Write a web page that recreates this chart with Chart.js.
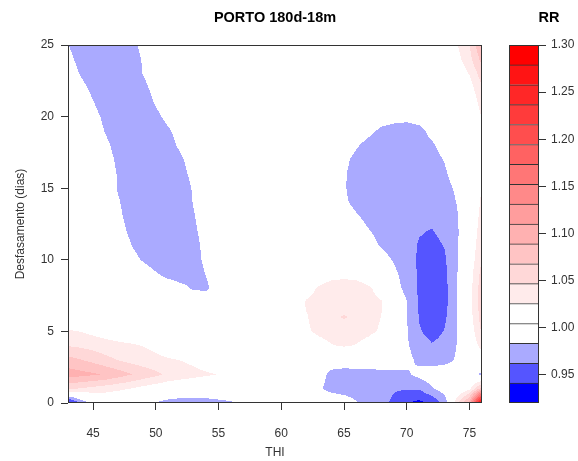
<!DOCTYPE html>
<html>
<head>
<meta charset="utf-8">
<title>PORTO 180d-18m</title>
<script src="https://cdn.jsdelivr.net/npm/chart.js@4.4.1/dist/chart.umd.min.js"></script>
<style>
  body { margin: 0; background: #fff; }
  #wrap { position: relative; width: 578px; height: 461px; }
  #wrap canvas { position: absolute; left: 0; top: 0; }
</style>
</head>
<body>
<div id="wrap">
  <canvas id="rrMap" width="578" height="461"></canvas>
  <canvas id="rrKey" width="578" height="461"></canvas>
</div>
<script>
// grid axes: THI (columns) and lag in days (rows)
const thi = [43, 44, 45, 46, 47, 48, 49, 50, 51, 52, 53, 54, 55, 56, 57, 58, 59,
             60, 61, 62, 63, 64, 65, 66, 67, 68, 69, 70, 71, 72, 73, 74, 75, 76];
const lags = [0, 1, 2, 3, 4, 5, 6, 7, 8, 9, 10, 11, 12, 13, 14, 15, 16, 17, 18, 19,
              20, 21, 22, 23, 24, 25];

// relative risk, one row per lag (lag 0 first), one value per THI column
const rr = [
  /* 0 */ [0.925,0.965,0.990,1,1,1,0.992,0.982,0.975,0.972,0.972,0.975,0.978,0.981,0.988,0.995,1,1,1,1,1,1,0.995,0.985,0.975,0.968,0.958,0.942,0.935,0.945,0.968,1.040,1.100,1.300],
  /* 1 */ [1.050,1.045,1.040,1.035,1.030,1.025,1.018,1.012,1.008,1.005,1.003,1,1,1,1,1,1,1,1,1,0.986,0.977,0.974,0.972,0.970,0.968,0.964,0.964,0.964,0.980,0.995,1,1.020,1.080],
  /* 2 */ [1.100,1.096,1.092,1.087,1.078,1.069,1.060,1.052,1.042,1.037,1.033,1.029,1.025,1.015,1.005,1,1,1,1,1,0.990,0.979,0.977,0.977,0.977,0.978,0.979,0.980,0.990,0.998,1,1,0.995,0.978],
  /* 3 */ [1.075,1.069,1.062,1.053,1.046,1.040,1.035,1.031,1.028,1.025,1.020,1.012,1.005,1,1,1,1,1,1,1,0.998,0.992,0.992,0.993,0.994,0.995,0.993,0.990,0.978,0.972,0.975,0.986,1,1.010],
  /* 4 */ [1.046,1.043,1.039,1.035,1.031,1.029,1.025,1.020,1.013,1.007,1.002,1,1,1,1,1,1,1,1,1.005,1.015,1.024,1.028,1.024,1.015,1,0.995,0.986,0.972,0.964,0.968,0.984,1.005,1.035],
  /* 5 */ [1.028,1.025,1.020,1.015,1.012,1.008,1.005,1.002,1,1,1,1,1,1,1,1,1,1,1.008,1.022,1.031,1.036,1.038,1.036,1.031,1.022,0.995,0.985,0.964,0.955,0.963,0.982,1.010,1.050],
  /* 6 */ [1.010,1.008,1.006,1.004,1.002,1,1,1,1,1,1,1,1,1,1,1,1,1,1.010,1.024,1.035,1.043,1.048,1.043,1.035,1.025,0.994,0.984,0.961,0.952,0.958,0.982,1.015,1.058],
  /* 7 */ [1,1,1,1,1,1,1,1,1,1,1,1,1,1,1,1,1,1,1.008,1.028,1.031,1.038,1.040,1.038,1.031,1.027,0.993,0.984,0.960,0.950,0.955,0.982,1.016,1.060],
  /* 8 */ [1,1,1,1,1,1,1,1,0.998,0.990,0.981,0.980,0.992,1,1,1,1,1,1,1.018,1.028,1.033,1.034,1.033,1.028,1.018,0.988,0.980,0.958,0.949,0.955,0.982,1.016,1.060],
  /* 9 */ [1,1,1,1,1,1,0.996,0.986,0.976,0.972,0.974,0.984,0.994,1,1,1,1,1,1,1,1.015,1.020,1.021,1.020,1.015,0.995,0.986,0.978,0.958,0.950,0.957,0.982,1.014,1.055],
  /* 10 */ [1,1,1,1,1,0.991,0.981,0.971,0.970,0.970,0.977,0.987,0.997,1,1,1,1,1,1,1,1,1.002,1.003,1,0.995,0.988,0.982,0.975,0.958,0.952,0.959,0.981,1.010,1.048],
  /* 11 */ [1,1,1,1,0.994,0.984,0.974,0.970,0.970,0.970,0.978,0.988,0.998,1,1,1,1,1,1,1,1,1,1,0.995,0.988,0.982,0.978,0.972,0.960,0.956,0.963,0.980,1.008,1.042],
  /* 12 */ [1,1,1,1,0.990,0.980,0.970,0.970,0.970,0.970,0.980,0.990,1,1,1,1,1,1,1,1,1,1,0.997,0.990,0.984,0.979,0.976,0.972,0.964,0.961,0.968,0.980,1.005,1.038],
  /* 13 */ [1,1,1,0.997,0.987,0.977,0.970,0.970,0.970,0.972,0.982,0.992,1,1,1,1,1,1,1,1,1,0.997,0.992,0.985,0.979,0.975,0.973,0.971,0.969,0.968,0.971,0.981,1.004,1.034],
  /* 14 */ [1,1,1,0.995,0.985,0.975,0.970,0.970,0.970,0.974,0.984,0.994,1,1,1,1,1,1,1,1,0.998,0.992,0.986,0.979,0.975,0.973,0.972,0.972,0.972,0.972,0.974,0.984,1.002,1.030],
  /* 15 */ [1,1,1,0.993,0.982,0.973,0.970,0.970,0.970,0.975,0.985,0.995,1,1,1,1,1,1,1,1,0.997,0.990,0.985,0.976,0.973,0.972,0.972,0.972,0.973,0.974,0.978,0.986,1,1.027],
  /* 16 */ [1,1,1,0.992,0.982,0.972,0.970,0.970,0.970,0.978,0.988,0.998,1,1,1,1,1,1,1,1,0.997,0.990,0.985,0.977,0.974,0.973,0.973,0.973,0.974,0.975,0.981,0.990,1,1.018],
  /* 17 */ [1,1,1,0.990,0.980,0.970,0.970,0.970,0.971,0.981,0.991,1,1,1,1,1,1,1,1,1,0.998,0.992,0.987,0.979,0.975,0.974,0.974,0.974,0.975,0.977,0.984,0.992,1,1.005],
  /* 18 */ [1,1,0.997,0.987,0.977,0.970,0.970,0.970,0.977,0.987,0.997,1,1,1,1,1,1,1,1,1,1,0.996,0.992,0.985,0.978,0.976,0.975,0.975,0.976,0.981,0.990,0.996,1,1.005],
  /* 19 */ [1,1,0.993,0.982,0.973,0.970,0.970,0.971,0.981,0.991,1,1,1,1,1,1,1,1,1,1,1,1,0.997,0.993,0.987,0.980,0.977,0.976,0.979,0.988,0.995,1,1,1.015],
  /* 20 */ [1,0.999,0.989,0.979,0.970,0.970,0.970,0.979,0.989,0.999,1,1,1,1,1,1,1,1,1,1,1,1,1,0.998,0.995,0.991,0.989,0.988,0.990,0.995,1,1,1.003,1.027],
  /* 21 */ [1,0.994,0.984,0.974,0.970,0.970,0.975,0.985,0.995,1,1,1,1,1,1,1,1,1,1,1,1,1,1,1,1,1,1,1,1,1,1,1,1.008,1.035],
  /* 22 */ [0.999,0.989,0.979,0.970,0.970,0.970,0.979,0.989,0.999,1,1,1,1,1,1,1,1,1,1,1,1,1,1,1,1,1,1,1,1,1,1,1.004,1.015,1.045],
  /* 23 */ [0.993,0.982,0.973,0.970,0.970,0.973,0.984,0.993,1,1,1,1,1,1,1,1,1,1,1,1,1,1,1,1,1,1,1,1,1,1,1,1.008,1.027,1.058],
  /* 24 */ [0.988,0.978,0.970,0.970,0.970,0.975,0.985,0.995,1,1,1,1,1,1,1,1,1,1,1,1,1,1,1,1,1,1,1,1,1,1,1,1.018,1.040,1.075],
  /* 25 */ [0.984,0.974,0.970,0.970,0.970,0.978,0.988,0.998,1,1,1,1,1,1,1,1,1,1,1,1,1,1,1,1,1,1,1,1,1,1,1,1.024,1.046,1.090]
];

// contour levels and the fill of each band between them
const levels = [0.920, 0.9411, 0.9622, 0.9833, 1.0044, 1.0256, 1.0467, 1.0678, 1.0889, 1.1100,
                1.1311, 1.1522, 1.1733, 1.1944, 1.2156, 1.2367, 1.2578, 1.2789, 1.300];
const binColors = ['#0000FF', '#5555FF', '#AAAAFF', '#FFFFFF',
                   '#FFFFFF', '#FFEBEB', '#FFD8D8', '#FFC4C4', '#FFB1B1', '#FF9D9D', '#FF8989',
                   '#FF7676', '#FF6262', '#FF4E4E', '#FF3B3B', '#FF2727', '#FF1414', '#FF0000'];

const thiTicks = [45, 50, 55, 60, 65, 70, 75];
const lagTicks = [0, 5, 10, 15, 20, 25];
const keyTicks = [0.95, 1.00, 1.05, 1.10, 1.15, 1.20, 1.25, 1.30];

const FONT = '"Liberation Sans", Arial, sans-serif';
Chart.defaults.font.family = FONT;
Chart.defaults.font.size = 12;
Chart.defaults.color = '#333';

function hexToRgb(h) {
  const n = parseInt(h.slice(1), 16);
  return [(n >> 16) & 255, (n >> 8) & 255, n & 255];
}

// filled contours: every pixel of the plot area is mapped back through the
// scales, the grid is interpolated bilinearly and the band colour is looked up
const contourFill = {
  id: 'contourFill',
  beforeDatasetsDraw(chart, args, opts) {
    const { ctx, chartArea: a, scales: { x, y } } = chart;
    const { xs, ys, z, lv, cols } = opts;
    const rgb = cols.map(hexToRgb);
    const w = Math.round(a.right - a.left), h = Math.round(a.bottom - a.top);
    const off = document.createElement('canvas');
    off.width = w; off.height = h;
    const octx = off.getContext('2d');
    const img = octx.createImageData(w, h);
    const dx = xs[1] - xs[0], dy = ys[1] - ys[0];
    for (let j = 0; j < h; j++) {
      const fy = (y.getValueForPixel(a.top + j + 0.5) - ys[0]) / dy;
      const r = Math.min(Math.max(Math.floor(fy), 0), ys.length - 2);
      const ty = fy - r;
      for (let i = 0; i < w; i++) {
        const fx = (x.getValueForPixel(a.left + i + 0.5) - xs[0]) / dx;
        const c = Math.min(Math.max(Math.floor(fx), 0), xs.length - 2);
        const tx = fx - c;
        const lo = z[r][c] * (1 - tx) + z[r][c + 1] * tx;
        const hi = z[r + 1][c] * (1 - tx) + z[r + 1][c + 1] * tx;
        const v = lo * (1 - ty) + hi * ty;
        let k = 0;
        while (k < cols.length - 1 && v >= lv[k + 1]) k++;
        const p = (j * w + i) * 4;
        img.data[p] = rgb[k][0];
        img.data[p + 1] = rgb[k][1];
        img.data[p + 2] = rgb[k][2];
        img.data[p + 3] = 255;
      }
    }
    octx.putImageData(img, 0, 0);
    ctx.drawImage(off, a.left, a.top);
  }
};

// box round the plotting region
const frame = {
  id: 'frame',
  afterDraw(chart) {
    const { ctx, chartArea: a } = chart;
    ctx.save();
    ctx.strokeStyle = '#333';
    ctx.lineWidth = 1;
    ctx.strokeRect(a.left + 0.5, a.top + 0.5, a.right - a.left - 1, a.bottom - a.top - 1);
    ctx.restore();
  }
};

// bold heading above the plotting region
const heading = {
  id: 'heading',
  afterDraw(chart, args, opts) {
    const { ctx, chartArea: a } = chart;
    ctx.save();
    ctx.font = 'bold ' + opts.size + 'px ' + FONT;
    ctx.fillStyle = '#000';
    ctx.textAlign = 'center';
    ctx.textBaseline = 'middle';
    ctx.fillText(opts.text, (a.left + a.right) / 2 + (opts.shift || 0), opts.y);
    ctx.restore();
  }
};

const tickGrid = { drawOnChartArea: false, drawTicks: true, tickLength: 7, color: '#333' };

const gridPoints = [];
lags.forEach((lag, r) => thi.forEach((t, c) => gridPoints.push({ x: t, y: lag, v: rr[r][c] })));

new Chart(document.getElementById('rrMap'), {
  type: 'scatter',
  data: { datasets: [{ data: gridPoints, pointRadius: 0, pointHoverRadius: 0 }] },
  options: {
    responsive: false,
    animation: false,
    events: [],
    layout: { padding: { top: 45, right: 96, left: 0, bottom: 0 } },
    plugins: {
      legend: { display: false },
      tooltip: { enabled: false },
      contourFill: { xs: thi, ys: lags, z: rr, lv: levels, cols: binColors },
      heading: { text: 'PORTO 180d-18m', size: 14.5, y: 18 }
    },
    scales: {
      x: {
        type: 'linear', min: thi[0], max: thi[thi.length - 1],
        afterBuildTicks: s => { s.ticks = thiTicks.map(v => ({ value: v })); },
        afterFit: s => { s.height = 58; },
        grid: tickGrid,
        border: { display: false },
        ticks: { padding: 16, autoSkip: false, maxRotation: 0 },
        title: { display: true, text: 'THI', padding: { top: 0, bottom: 1 } }
      },
      y: {
        type: 'linear', min: lags[0], max: lags[lags.length - 1],
        afterBuildTicks: s => { s.ticks = lagTicks.map(v => ({ value: v })); },
        afterFit: s => { s.width = 68; },
        grid: tickGrid,
        border: { display: false },
        ticks: { padding: 7 },
        title: { display: true, text: 'Desfasamento (dias)', padding: { top: 13, bottom: 0 } }
      }
    }
  },
  plugins: [contourFill, frame, heading]
});

// colour key: one floating bar per band
new Chart(document.getElementById('rrKey'), {
  type: 'bar',
  data: {
    labels: ['RR'],
    datasets: binColors.map((c, k) => ({
      data: [[levels[k], levels[k + 1]]],
      backgroundColor: c,
      borderColor: '#333',
      borderWidth: 1,
      borderSkipped: 'start'
    }))
  },
  options: {
    responsive: false,
    animation: false,
    events: [],
    layout: { padding: { left: 509, top: 45, bottom: 58, right: 0 } },
    datasets: { bar: { grouped: false, barPercentage: 1, categoryPercentage: 1 } },
    plugins: {
      legend: { display: false },
      tooltip: { enabled: false },
      heading: { text: 'RR', size: 14.5, y: 18, shift: 25 }
    },
    scales: {
      x: { display: false },
      y: {
        position: 'right', min: levels[0], max: levels[levels.length - 1],
        afterBuildTicks: s => { s.ticks = keyTicks.map(v => ({ value: v })); },
        afterFit: s => { s.width = 39; },
        grid: tickGrid,
        border: { display: false },
        ticks: { padding: 5, callback: v => Number(v).toFixed(2) }
      }
    }
  },
  plugins: [frame, heading]
});
</script>
</body>
</html>
